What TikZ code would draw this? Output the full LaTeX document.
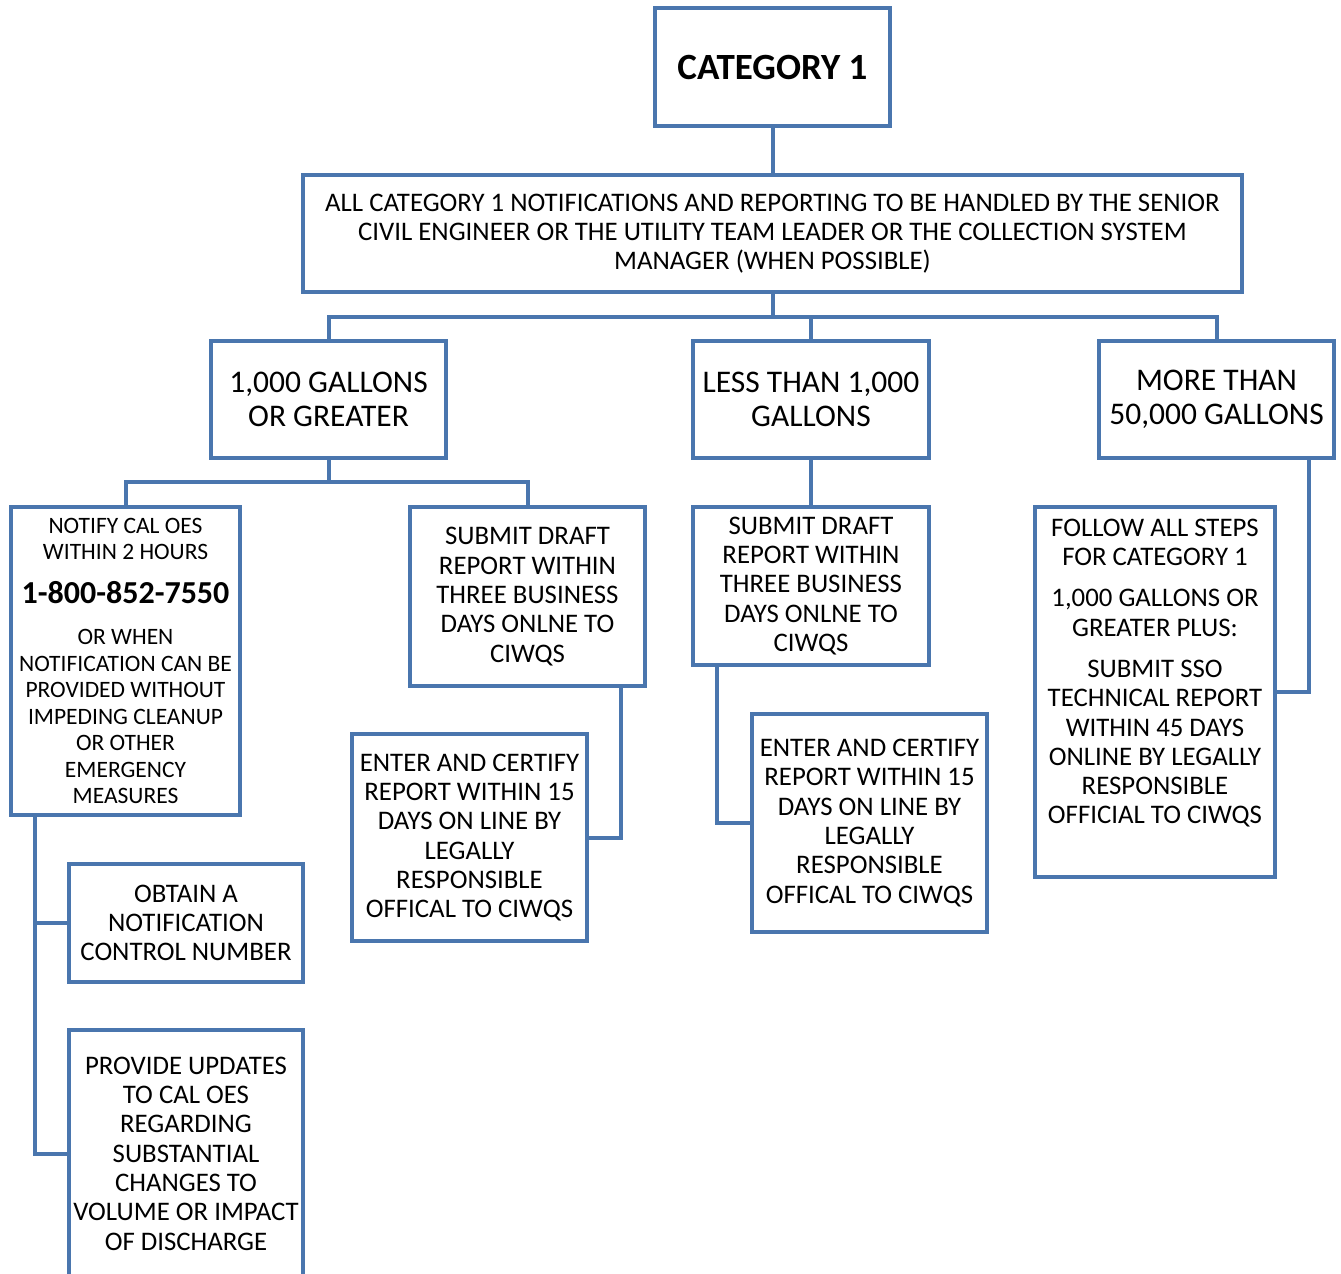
\documentclass[tikz,border=0pt]{standalone}
\usepackage{fontspec}
\setmainfont{Carlito}
\usetikzlibrary{positioning}
\definecolor{boxblue}{HTML}{4A76AE}

\begin{document}
\begin{tikzpicture}[x=1pt,y=-1pt,
  box/.style={draw=boxblue,line width=4pt,fill=white,align=center,inner sep=0pt,
    font=\fontsize{26.8pt}{29.3pt}\selectfont},
  bigbox/.style={box,font=\fontsize{31.5pt}{34pt}\selectfont},
  link/.style={draw=boxblue,line width=4pt}]
\useasboundingbox (0,0) rectangle (1341,1274);
% top of the tree
\node[box,minimum width=235pt,minimum height=118pt,font=\fontsize{37pt}{40pt}\selectfont\bfseries] (cat) at (772.5,67) {CATEGORY 1};
\node[box,minimum width=939pt,minimum height=117pt] (all) at (772.5,233.5) {ALL CATEGORY 1 NOTIFICATIONS AND REPORTING TO BE HANDLED BY THE SENIOR\\CIVIL ENGINEER OR THE UTILITY TEAM LEADER OR THE COLLECTION SYSTEM\\MANAGER (WHEN POSSIBLE)};
\node[bigbox,minimum width=235pt,minimum height=117pt] (big) at (328.5,399.5) {1,000 GALLONS\\OR GREATER};
\node[bigbox,minimum width=236pt,minimum height=117pt] (small) at (811,399.5) {LESS THAN 1,000\\GALLONS};
\node[bigbox,minimum width=235pt,minimum height=117pt] (huge) at (1216.5,399.5) {MORE THAN\\50,000 GALLONS};
% 1,000 gallons or greater
\node[box,minimum width=229pt,minimum height=308pt,font=\fontsize{23.5pt}{26.5pt}\selectfont] (notify) at (125.5,661) {NOTIFY CAL OES\\WITHIN 2 HOURS\\[17pt]{\fontsize{32pt}{35pt}\selectfont\bfseries 1-800-852-7550}\\[15pt]OR WHEN\\NOTIFICATION CAN BE\\PROVIDED WITHOUT\\IMPEDING CLEANUP\\OR OTHER\\EMERGENCY\\MEASURES};
\node[box,minimum width=235pt,minimum height=179pt] (draftA) at (527.5,596.5) {SUBMIT DRAFT\\REPORT WITHIN\\THREE BUSINESS\\DAYS ONLNE TO\\CIWQS};
\node[box,minimum width=235pt,minimum height=207pt] (certA) at (469.5,837.5) {ENTER AND CERTIFY\\REPORT WITHIN 15\\DAYS ON LINE BY\\LEGALLY\\RESPONSIBLE\\OFFICAL TO CIWQS};
\node[box,minimum width=234pt,minimum height=118pt] (obtain) at (186,923) {OBTAIN A\\NOTIFICATION\\CONTROL NUMBER};
\node[box,minimum width=234pt,minimum height=247pt] (updates) at (186,1153.5) {PROVIDE UPDATES\\TO CAL OES\\REGARDING\\SUBSTANTIAL\\CHANGES TO\\VOLUME OR IMPACT\\OF DISCHARGE};
% less than 1,000 gallons
\node[box,minimum width=236pt,minimum height=158pt] (draftB) at (811,586) {SUBMIT DRAFT\\REPORT WITHIN\\THREE BUSINESS\\DAYS ONLNE TO\\CIWQS};
\node[box,minimum width=235pt,minimum height=218pt] (certB) at (869.5,823) {ENTER AND CERTIFY\\REPORT WITHIN 15\\DAYS ON LINE BY\\LEGALLY\\RESPONSIBLE\\OFFICAL TO CIWQS};
% more than 50,000 gallons
\node[box,minimum width=240pt,minimum height=370pt] (follow) at (1155,692) {FOLLOW ALL STEPS\\FOR CATEGORY 1\\[12pt]1,000 GALLONS OR\\GREATER PLUS:\\[12pt]SUBMIT SSO\\TECHNICAL REPORT\\WITHIN 45 DAYS\\ONLINE BY LEGALLY\\RESPONSIBLE\\OFFICIAL TO CIWQS\\[12pt]\mbox{}};
% connectors
\coordinate (bus1) at (772.5,317);
\coordinate (bus2) at (328.5,482);
\path[link] (cat) -- (all);
\path[link] (all) -- (bus1);
\path[link] (big) |- (bus1) -| (huge);
\path[link] (small) -- (small |- bus1);
\path[link] (big) -- (bus2);
\path[link] (notify) |- (bus2) -| (draftA);
\path[link] (small) -- (draftB);
\path[link] ([xshift=93.5pt]draftA.south) |- (certA);
\path[link] ([xshift=-94pt]draftB.south) |- (certB);
\path[link] ([xshift=92.5pt]huge.south) |- (follow);
\path[link] ([xshift=-90.5pt]notify.south) |- (obtain);
\path[link] ([xshift=-90.5pt]notify.south) |- (updates);
\end{tikzpicture}
\end{document}
